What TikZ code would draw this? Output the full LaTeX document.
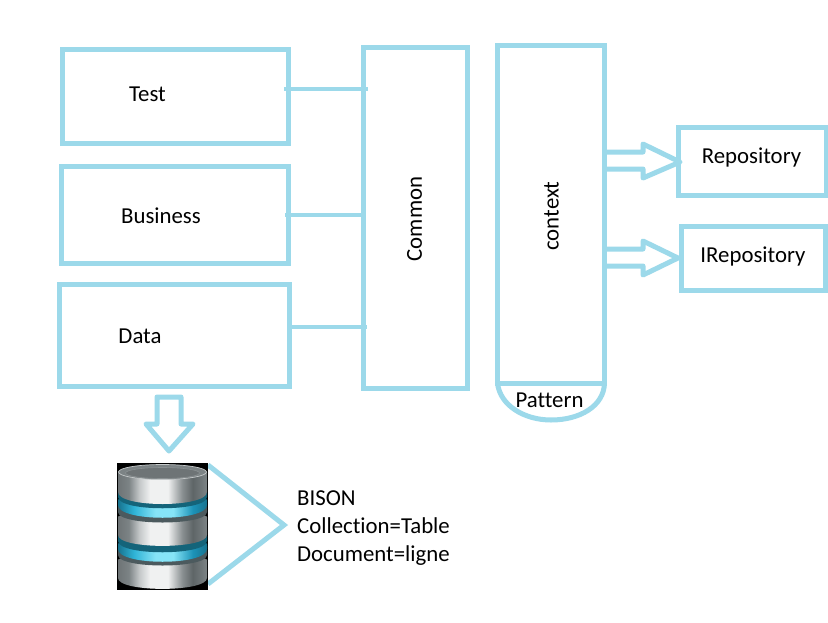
\documentclass[tikz,border=0pt]{standalone}
\usepackage{fontspec}
\setmainfont[RawFeature={-liga;-clig}]{Carlito}
\definecolor{mA}{HTML}{6E7476}
\definecolor{mB}{HTML}{7C8385}
\definecolor{mC}{HTML}{C4C8C9}
\definecolor{mD}{HTML}{F0F1F1}
\definecolor{mE}{HTML}{8A9092}
\definecolor{mF}{HTML}{5E6567}
\pgfdeclarehorizontalshading{metal}{100bp}{color(0bp)=(mA);color(25bp)=(mA);color(31bp)=(mB);color(37bp)=(mC);color(43bp)=(mD);color(53bp)=(mD);color(61bp)=(mE);color(67bp)=(mF);color(75bp)=(mB);color(100bp)=(mB)}
\definecolor{bA}{HTML}{17738F}
\definecolor{bB}{HTML}{2FB3D6}
\definecolor{bC}{HTML}{86E4F7}
\definecolor{bD}{HTML}{1C93B8}
\pgfdeclarehorizontalshading{bluering}{100bp}{color(0bp)=(bA);color(25bp)=(bA);color(34bp)=(bB);color(46bp)=(bC);color(56bp)=(bC);color(67bp)=(bD);color(75bp)=(bA);color(100bp)=(bA)}
\definecolor{lb}{HTML}{9CD9EA}
\definecolor{teal}{HTML}{14647A}
\definecolor{slate}{HTML}{4C5A5E}
\newcommand{\dbshape}[3]{(118,#1) -- (118,#2) .. controls (118,#2+#3) and (207,#2+#3) .. (207,#2) -- (207,#1) .. controls (207,#1-6) and (118,#1-6) .. cycle}
\tikzset{
  x=1pt,y=-1pt,
  wire/.style={draw=lb,line width=5pt},
  boxnode/.style={draw=lb,line width=5pt,inner sep=0pt,outer sep=0pt,anchor=north west,fill=white},
  lab/.style={font=\fontsize{22.8}{27}\selectfont,inner sep=0pt,text=black},
  vlab/.style={lab,rotate=90},
  metaldisc/.style={shading=metal},
  ringdisc/.style={shading=bluering}
}
\begin{document}
\begin{tikzpicture}
\useasboundingbox (0,0) rectangle (828,622);
\fill[white] (0,0) rectangle (828,622);
% boxes
\node[boxnode,minimum width=226pt,minimum height=94pt] (test) at (62,49) {};
\node[boxnode,minimum width=227pt,minimum height=97pt] (business) at (61,166) {};
\node[boxnode,minimum width=230pt,minimum height=102pt] (data) at (59,284) {};
\node[boxnode,minimum width=104pt,minimum height=341pt] (common) at (363,47) {};
\node[boxnode,minimum width=107pt,minimum height=338pt] (context) at (497.5,45) {};
\node[boxnode,minimum width=148pt,minimum height=68pt] (repo) at (678,127) {};
\node[boxnode,minimum width=144pt,minimum height=64pt] (irepo) at (681,226) {};
% connectors
\coordinate (t1) at (284,89); \coordinate (c1) at (368,89);
\coordinate (b1) at (285,215); \coordinate (c2) at (364,215);
\coordinate (d1) at (289,327); \coordinate (c3) at (367,327);
\draw[wire,line width=4pt] (t1) -- (c1);
\draw[wire,line width=4pt] (b1) -- (c2);
\draw[wire,line width=4pt] (d1) -- (c3);
% pattern bowl
\draw[wire,line cap=round] (context.south west) .. controls (500,406) and (525,420) .. (551,420) .. controls (580,420) and (604,406) .. (context.south east);
% block arrows
\draw[wire,line join=round,line cap=round] (606,152) -- (643,152) -- (643,144) -- (680,162) -- (643,178) -- (643,169) -- (606,169);
\draw[wire,line join=round,line cap=round] (606,249) -- (643,249) -- (643,241) -- (678,258) -- (643,275) -- (643,266) -- (606,266);
\draw[wire,line join=round] (157,424) -- (157,397) -- (181,397) -- (181,424) -- (193,424) -- (169,451) -- (146,424) -- cycle;
% database icon
\draw[wire] (208,465) -- (284,525) -- (208,584);
\fill[black] (117,463) rectangle (208,590);
% bottom disc
\path[metaldisc] \dbshape{560}{578}{14.5};
\path[fill=slate] \dbshape{546}{555}{14};
% ring 2
\path[ringdisc] \dbshape{544}{549}{17};
\path[fill=teal] \dbshape{536}{541}{15};
% middle disc
\path[metaldisc] \dbshape{517}{535}{14.5};
\path[fill=slate] \dbshape{505}{512}{14};
% ring 1
\path[ringdisc] \dbshape{500}{505}{17};
\path[fill=teal] \dbshape{492}{497}{15};
% top disc
\path[metaldisc] \dbshape{472}{492}{16};
\path[fill=mB,draw=mC,line width=.7pt] (162.5,472) ellipse[x radius=44,y radius=7.5];
\path[fill=mA,draw=mE,line width=.6pt] (162.5,473) ellipse[x radius=37,y radius=5.5];
% labels
\node[lab] (ltest) at (147.5,94.5) {Test};
\node[lab] (lbusiness) at (161,216) {Business};
\node[lab] (ldata) at (140,336.5) {Data};
\node[vlab] (lcommon) at (414.5,219) {Common};
\node[vlab] (lcontext) at (551.5,216) {context};
\node[lab] (lrepo) at (751.5,157.5) {Repository};
\node[lab] (lirepo) at (753,256.5) {IRepository};
\node[lab] (lpattern) at (549.5,400.5) {Pattern};
\node[lab,anchor=base west] (l1) at (297,505) {BISON};
\node[lab,anchor=base west] (l2) at (297,533) {Collection=Table};
\node[lab,anchor=base west] (l3) at (297,561) {Document=ligne};
\end{tikzpicture}
\end{document}
